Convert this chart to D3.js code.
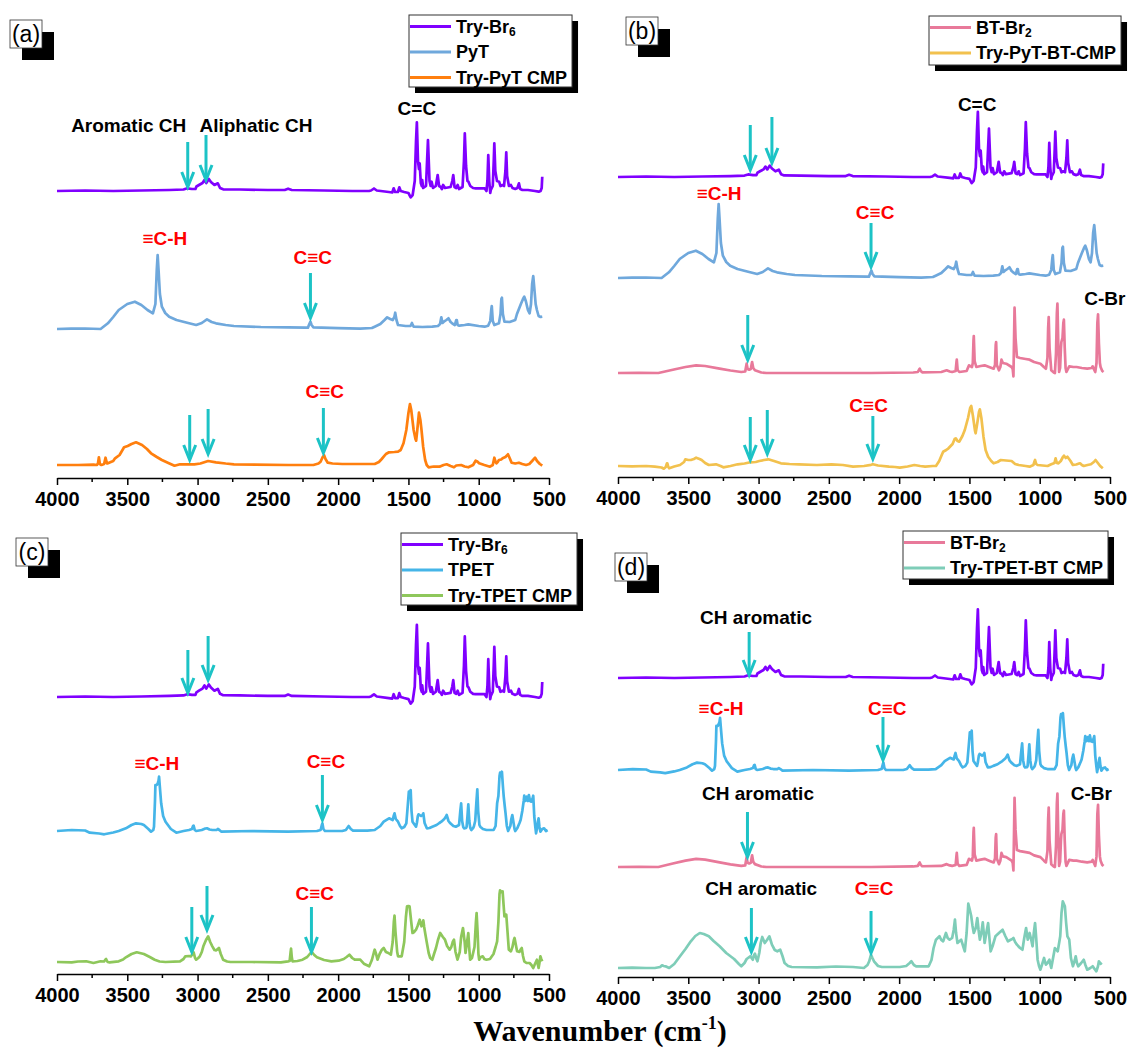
<!DOCTYPE html>
<html><head><meta charset="utf-8">
<script src="https://cdn.jsdelivr.net/npm/d3@7"></script>
<style>body{margin:0;background:#fff}svg{display:block}</style>
</head><body>
<svg id="chart" width="1130" height="1048"></svg>
<script>
// ---------- data: [wavenumber (cm-1), relative intensity] ----------
const tryBr6 = [[4000,0],[3800,0.5],[3600,0],[3400,0.5],[3200,1],[3100,1.5],[3074,2.7],[3040,2],[3015,2],[3008,4.5],[2990,6],[2965,8],[2951,11],[2938,8],[2920,12],[2905,9],[2880,6],[2856,7.7],[2840,3],[2818,1.7],[2700,1.5],[2500,1],[2380,1],[2356,2.3],[2330,1],[2100,0.5],[1900,0],[1780,0],[1766,0.5],[1745,2.5],[1725,0.5],[1640,-1],[1615,-1.5],[1605,2.7],[1595,-1],[1575,-1],[1565,3.7],[1555,0],[1530,-1],[1500,-2],[1484,-6.3],[1470,-4],[1455,10],[1446,50],[1440,68.7],[1432,30],[1425,22],[1420,27.7],[1412,8],[1405,5],[1402,11],[1395,3],[1375,5],[1361,51],[1350,10],[1342,5],[1335,9.3],[1325,3],[1305,5],[1292,16],[1282,5],[1270,4],[1262,2],[1253,6],[1240,3],[1200,4],[1188,10],[1181,16],[1172,4],[1160,3],[1150,6],[1140,2],[1115,4],[1105,30],[1099,57.7],[1090,25],[1080,10],[1073,9.3],[1060,5],[1040,3],[1022,2.7],[958,2.7],[945,0],[938,10],[932,36],[925,10],[918,-2],[914,1],[900,5],[893,30],[889,47.7],[882,20],[870,10],[855,9.3],[845,5],[830,6],[820,5],[810,20],[804,38.7],[798,15],[785,5],[771,6],[760,3],[740,2],[725,3],[714,7.7],[705,2],[689,1],[650,1],[600,0],[573,-0.7],[560,0],[552,3],[548,14.3]];

const pyT = [[4000,0],[3900,0.3],[3800,0.5],[3690,0],[3638,5.7],[3600,12],[3561,19],[3500,25],[3446,27.3],[3400,24],[3356,19],[3318,15.7],[3300,25],[3290,60],[3284,74],[3278,60],[3268,35],[3254,22.3],[3230,16],[3202,12.3],[3150,9],[3074,6.3],[3010,4],[2970,6],[2950,8],[2933,9.7],[2900,7],[2869,5.7],[2800,4],[2741,3],[2550,2],[2356,1.7],[2230,1.3],[2215,1.3],[2205,5],[2197,7.3],[2189,4],[2176,1.7],[2000,0.8],[1843,0.3],[1760,1],[1740,2.3],[1700,5],[1670,9],[1651,11.7],[1630,10],[1612,9],[1600,12],[1594,16.3],[1585,9],[1574,4],[1520,3],[1485,3],[1475,6],[1471,4.7],[1463,2.3],[1400,2],[1330,2.3],[1290,3],[1275,5],[1266,11.7],[1258,6],[1248,7.3],[1230,9],[1215,10.7],[1200,7],[1189,5.7],[1170,4],[1160,9],[1156,9],[1150,4],[1138,3.3],[1100,4],[1074,4.7],[1000,3],[958,2.3],[933,3.3],[918,8],[910,20],[907,23],[900,8],[889,4],[870,5],[856,5.7],[845,15],[839,30],[835,31.3],[828,15],[817,7.3],[780,7],[760,8],[740,9],[728,15],[714,20],[700,25],[685,30],[676,32.3],[665,28],[650,19],[638,15.7],[628,25],[620,45],[612,53],[604,40],[595,25],[586,19],[574,13],[560,12],[548,12.3]];

const tryPyTCMP = [[4000,0],[3850,0],[3740,0.3],[3715,0],[3708,2],[3702,7.7],[3695,1],[3684,0],[3665,1],[3655,7.3],[3645,1.7],[3638,1.7],[3600,4],[3587,6.7],[3555,10],[3530,16],[3523,17.7],[3497,19],[3470,21],[3438,22.7],[3395,20],[3360,16],[3331,11.7],[3290,8],[3254,5],[3200,1.5],[3164,-0.7],[3125,0.7],[3023,0.7],[2980,1.5],[2925,4],[2869,2.7],[2800,1.5],[2741,0.7],[2356,0],[2176,0],[2140,1.5],[2125,3.3],[2110,8],[2100,9.7],[2090,6],[2074,2.3],[2040,1.5],[1971,1],[1800,1],[1740,1],[1710,3],[1690,6],[1676,8.3],[1660,11],[1638,12.7],[1600,13],[1574,13.3],[1555,15],[1535,21.7],[1515,35],[1500,52],[1489,61],[1480,55],[1463,35],[1450,26],[1445,24.3],[1437,35],[1425,52.3],[1415,45],[1407,35],[1395,18],[1381,5],[1370,0],[1356,-2.3],[1320,-1.5],[1279,-1.7],[1250,0],[1228,0.7],[1200,-1],[1176,-2.3],[1160,-0.5],[1125,0],[1100,-1.5],[1074,-2.3],[1040,0],[1022,4.3],[1010,3.5],[997,1.7],[960,0],[920,-1.7],[900,0],[889,7.3],[880,3],[874,1.7],[865,3],[856,5],[840,5.5],[830,6.7],[810,8],[792,10.7],[780,7],[766,2.3],[740,1.5],[714,2.3],[690,1],[663,0],[640,1],[620,4],[599,7.3],[585,4],[565,1],[548,-0.7]];

const btBr2 = [[4000,0],[3850,0.2],[3713,0],[3610,3.3],[3520,6],[3444,7.7],[3380,7],[3277,4.3],[3200,2.5],[3123,1],[3095,1.5],[3088,7],[3085,9.3],[3078,4],[3067,3.3],[3055,4],[3049,9],[3046,11],[3038,5],[3026,2.7],[2980,0.5],[2944,0],[2500,0],[2200,0],[1900,0.5],[1867,1],[1858,3.5],[1854,4.3],[1846,2],[1836,0.7],[1700,1],[1662,2.7],[1640,1.5],[1623,1],[1598,2],[1592,11],[1590,13.3],[1584,3],[1572,1],[1520,2],[1503,7.7],[1482,6],[1476,10],[1471,33],[1469,37],[1463,12],[1451,6],[1420,7],[1392,7.7],[1360,6],[1328,4.3],[1318,8],[1313,28],[1310,31],[1305,8],[1290,2.7],[1280,6],[1272,13.3],[1262,10],[1238,9.3],[1200,6],[1192,4],[1187,-3.3],[1183,30],[1179,65.3],[1172,35],[1162,16],[1140,15],[1100,14],[1072,13.3],[1040,11],[995,9.3],[970,6],[956,4.3],[945,15],[940,45],[936,56],[930,25],[918,2.7],[900,0.5],[892,0],[884,20],[878,60],[874,69.3],[868,30],[862,1],[855,5],[849,25],[846,31],[838,35],[832,50],[828,53.3],[822,25],[816,5],[810,1],[790,6.7],[760,6],[738,6],[700,5],[662,4.3],[630,5],[623,6.7],[615,4],[605,1],[596,10],[590,50],[585,58.7],[579,30],[572,10],[567,6],[555,2],[546,1]];

const tryPyTBTCMP = [[4000,0],[3900,-0.3],[3800,0],[3738,-0.7],[3690,-1.5],[3674,-2.7],[3660,-1],[3652,2.7],[3649,2.7],[3642,-1],[3636,-2.3],[3600,-0.5],[3559,1],[3530,4],[3521,6.7],[3500,6],[3482,6],[3460,7],[3444,8.3],[3420,7],[3405,6],[3380,3],[3354,1],[3303,1.7],[3270,0],[3251,-1.3],[3200,0],[3149,1.7],[3100,2.5],[3059,3.7],[3020,4],[2995,5],[2960,6],[2931,6.7],[2890,5],[2841,2.7],[2780,2],[2713,1.7],[2585,1],[2482,1.7],[2400,1],[2328,-0.7],[2250,0],[2200,1.2],[2187,1.7],[2150,0.5],[2072,-0.7],[2030,-1],[1995,-1.7],[1940,-0.5],[1892,1],[1850,0],[1815,-0.7],[1760,0],[1738,0],[1715,5],[1700,10],[1687,14.3],[1665,16],[1649,17.7],[1620,22],[1605,27],[1597,27.7],[1585,25],[1572,24.3],[1550,30],[1533,36],[1510,48],[1495,58],[1487,60],[1475,50],[1460,35],[1456,32.7],[1445,42],[1432,54],[1426,56.7],[1415,48],[1400,29.3],[1385,16],[1367,9.3],[1345,5],[1328,2.7],[1300,4],[1277,6],[1240,5.5],[1200,5],[1175,2],[1149,1],[1100,0],[1072,-0.7],[1045,1],[1036,5],[1033,6],[1025,2],[1015,1],[980,0.5],[944,0],[918,1.7],[895,3],[887,7.7],[878,3],[867,2.7],[850,5],[835,9],[828,10.3],[815,8],[803,9.3],[782,5.3],[764,1],[740,1.5],[720,2.5],[713,2.7],[700,1],[687,0],[660,1],[636,1.7],[615,4],[603,6],[585,2.7],[570,0],[551,-2.3]];

const tpet = [[4000,0],[3895,1],[3800,0.5],[3767,-1.7],[3700,-2.5],[3664,-3.3],[3600,-1.5],[3561,0],[3510,2.7],[3470,6],[3438,7.7],[3400,7],[3382,6],[3350,2],[3331,-0.7],[3315,1],[3310,4.3],[3303,30],[3300,46],[3290,46],[3284,47.7],[3278,50],[3274,54.3],[3266,40],[3259,27.7],[3245,15],[3228,9.3],[3190,2],[3151,-1.7],[3100,0],[3061,1],[3040,2],[3032,5],[3028,5.3],[3020,1],[3010,0],[2970,1],[2945,2.5],[2933,2.7],[2915,1.5],[2895,1],[2865,1],[2856,2],[2845,1],[2830,-0.7],[2612,0],[2356,-0.7],[2151,0],[2125,1],[2116,6],[2112,7.7],[2105,2],[2094,0],[1971,0],[1945,1],[1925,5],[1910,2],[1894,0.3],[1792,0.3],[1740,1],[1700,5],[1676,9.3],[1638,12.7],[1612,11],[1605,15],[1599,17.7],[1590,12],[1574,9.3],[1560,5],[1548,2.7],[1530,4],[1515,7.7],[1505,25],[1497,39.3],[1490,35],[1484,41],[1478,20],[1471,9.3],[1446,4.3],[1440,8],[1433,15],[1428,16.7],[1410,15],[1400,16],[1394,17.7],[1385,8],[1369,2.7],[1350,3],[1330,4.3],[1300,6],[1280,8],[1266,9.3],[1245,12],[1235,14],[1228,16],[1215,10],[1202,7.7],[1180,5],[1163,4.3],[1140,6],[1131,20],[1125,27.7],[1118,10],[1110,4],[1104,2.7],[1090,3],[1086,4.3],[1080,15],[1074,26.7],[1067,10],[1060,3],[1053,1],[1040,3],[1035,4.3],[1025,10],[1016,30],[1010,41.7],[1004,20],[995,6],[989,4.3],[970,2],[945,1],[894,1],[880,5],[875,15],[869,27.7],[860,35],[852,55],[848,58.3],[841,55],[835,59.3],[828,45],[822,34.3],[815,25],[809,17.7],[800,5],[791,0],[775,5],[768,12],[761,16],[752,8],[745,2],[740,0],[725,3],[710,8],[702,11],[690,20],[680,30],[676,35.3],[668,30],[658,34.3],[650,30],[643,36],[635,30],[625,29.3],[618,32],[612,35.3],[605,15],[598,5],[592,-2.3],[585,3],[578,10],[574,12.7],[568,4],[561,-0.7],[548,2],[535,2.7],[522,0],[510,1]];

const tryTPETCMP = [[4000,0],[3895,-0.3],[3850,0.5],[3792,0.7],[3741,-1],[3690,0.7],[3665,0.5],[3655,2.5],[3651,3],[3640,0],[3626,-0.3],[3561,0.7],[3530,2.5],[3510,4.7],[3470,8],[3433,9.7],[3382,8],[3340,5],[3305,2.3],[3270,0.5],[3228,0],[3125,0.7],[3100,3],[3087,5.7],[3060,6],[3048,5.7],[3035,8],[3028,9.7],[3018,4],[3010,2.3],[2995,4],[2984,5.7],[2970,10],[2959,15.7],[2940,22],[2925,25.7],[2910,20],[2895,15.7],[2880,12],[2869,11.7],[2855,13],[2848,14],[2835,8],[2818,2.3],[2790,0.5],[2766,0],[2612,0],[2407,-0.3],[2356,0.7],[2345,1],[2338,10],[2335,13.3],[2330,5],[2325,0.7],[2290,1],[2253,2.3],[2220,5],[2202,8],[2187,10],[2170,7],[2151,4.7],[2100,2],[2048,0.7],[1997,1.3],[1960,3],[1940,5],[1920,7.3],[1900,4],[1882,2.3],[1860,2.5],[1843,2.3],[1817,-1.7],[1779,-4.3],[1760,2],[1745,10],[1740,12.3],[1730,8],[1720,2.3],[1705,8],[1689,12.3],[1676,14],[1660,10],[1643,9],[1625,7.3],[1612,20],[1604,40],[1599,46.3],[1592,30],[1580,10],[1574,5.7],[1548,5.7],[1530,20],[1518,45],[1510,55.7],[1500,56],[1492,55.7],[1480,40],[1471,29],[1460,30],[1446,32.3],[1435,36],[1420,42.3],[1407,35.7],[1400,38],[1394,41.7],[1388,35],[1381,29],[1370,20],[1356,9],[1345,4],[1330,2.3],[1318,8],[1304,14],[1290,22],[1274,29],[1255,25],[1240,22.3],[1225,16],[1207,12.3],[1195,15],[1185,20],[1176,22.3],[1165,10],[1151,2.3],[1135,10],[1125,25],[1112,34],[1100,20],[1094,9],[1085,18],[1074,29],[1068,15],[1061,2.3],[1048,4],[1030,15],[1020,40],[1015,49],[1008,30],[1002,8],[997,2.3],[985,5],[971,5.7],[960,3],[945,2.3],[920,3],[895,8],[880,15],[869,20.7],[860,40],[852,68],[848,71.7],[838,70],[830,70.7],[822,55],[817,45.7],[810,46],[804,47.3],[795,30],[786,12.3],[771,10.7],[760,15],[750,22],[745,24],[737,18],[727,10.7],[710,10],[700,13],[694,14],[685,6],[676,0.7],[660,-1],[638,-1],[625,-3],[612,-6],[600,-2],[586,2.3],[580,-2],[574,-6],[568,-1],[561,5.7],[555,3],[548,0.7]];

const tryTPETBTCMP = [[4000,0],[3900,0.3],[3800,0],[3738,0],[3700,1],[3687,2.7],[3675,2],[3662,1.7],[3636,0],[3600,4],[3559,11.7],[3520,19],[3482,26.7],[3450,32],[3418,35],[3390,34],[3354,31.7],[3320,27],[3277,21.7],[3230,15],[3174,9],[3140,4],[3123,1.7],[3100,5],[3085,9],[3059,11.7],[3041,8.3],[3035,12],[3026,14.3],[3015,9],[3008,6.7],[2995,15],[2985,25],[2974,31],[2965,28],[2956,25],[2940,28],[2923,31.7],[2915,28],[2905,23.3],[2885,18],[2867,16.7],[2846,18.3],[2830,12],[2815,5],[2790,2],[2764,1],[2585,0.7],[2450,1.5],[2328,1],[2251,0],[2225,3],[2213,6.7],[2200,13.3],[2190,10],[2179,6.7],[2150,2],[2123,1],[1995,1],[1950,2],[1925,5],[1913,6.7],[1895,3],[1879,1.7],[1790,1.7],[1770,8],[1755,20],[1738,28.3],[1713,31.7],[1700,28],[1687,26.7],[1667,35],[1655,30],[1641,28.3],[1623,30],[1612,38],[1603,48.3],[1595,35],[1585,25],[1570,27],[1559,28.3],[1545,22],[1533,16.7],[1520,35],[1508,64.3],[1497,58],[1487,51.7],[1478,42],[1469,35],[1455,40],[1444,50],[1435,38],[1426,28.3],[1415,35],[1405,45.7],[1398,35],[1392,25],[1380,35],[1367,45],[1358,30],[1349,16.7],[1335,22],[1315,31.7],[1290,35],[1264,38.3],[1245,32],[1226,26.7],[1210,28],[1195,29],[1187,30],[1175,26],[1162,23.3],[1140,20],[1123,18.3],[1110,30],[1097,40],[1090,33],[1085,28.3],[1078,32],[1072,35],[1060,28],[1051,21.7],[1042,35],[1033,45],[1025,30],[1015,8.3],[1005,2],[995,-1.7],[980,5],[969,10],[962,6],[956,3.3],[945,5],[931,8.3],[925,4],[918,0],[905,10],[892,20],[880,18],[872,16.7],[862,25],[854,31.7],[845,55],[836,66.7],[828,64],[821,61.7],[812,45],[803,31.7],[790,28.3],[778,10],[764,1.7],[750,8],[744,11.7],[735,5],[726,1.7],[705,5],[687,8.3],[675,3],[662,-1.7],[640,0],[623,1.7],[610,-1],[597,-3.3],[585,2],[579,6.7],[570,5],[559,3.3]];

const xTicks = [4000, 3500, 3000, 2500, 2000, 1500, 1000, 500];
const xMinorTicks = [3750, 3250, 2750, 2250, 1750, 1250, 750];
const xTitle = "Wavenumber (cm";

// ---------- styles ----------
const COL = {
  tryBr6: "#8000FF", pyT: "#6FA8DC", tryPyT: "#FF7F0E", btBr2: "#E8799A",
  tryPyTBT: "#F2C14E", tpet: "#45B5E8", tryTPET: "#8EC75B", tryTPETBT: "#7ECDB8",
  arrow: "#1CC3C6", red: "#FF0000"
};
const SANS = "'Liberation Sans', Arial, sans-serif";

// ---------- panel layout ----------
const panels = [
  { tag: "(a)", left: 57, right: 549, axisY: 478, tagPos: [10, 20],
    legend: { x: 409, y: 15, h: 72, items: [["Try-Br", "6", COL.tryBr6], ["PyT", "", COL.pyT], ["Try-PyT CMP", "", COL.tryPyT]] },
    traces: [{ d: tryBr6, c: COL.tryBr6, off: 287, k: 1 }, { d: pyT, c: COL.pyT, off: 149, k: 1 }, { d: tryPyTCMP, c: COL.tryPyT, off: 13, k: 1 }],
    notes: [["Aromatic CH", 3490, 353, "#000", "middle"], ["Aliphatic CH", 2585, 353, "#000", "middle"], ["C=C", 1440, 370, "#000", "middle"],
            ["≡C-H", 3233, 240, COL.red, "middle"], ["C≡C", 2180, 221, COL.red, "middle"], ["C≡C", 2095, 87, COL.red, "middle"]],
    arrows: [[3070, 336, 291], [2940, 343, 298], [2197, 205, 160], [3056, 63, 18], [2925, 69, 24], [2105, 70, 25]] },
  { tag: "(b)", left: 618, right: 1110, axisY: 477, tagPos: [626, 17],
    legend: { x: 929, y: 16, h: 49, items: [["BT-Br", "2", COL.btBr2], ["Try-PyT-BT-CMP", "", COL.tryPyTBT]] },
    traces: [{ d: tryBr6, c: COL.tryBr6, off: 300, k: 0.95 }, { d: pyT, c: COL.pyT, off: 199, k: 1 }, { d: btBr2, c: COL.btBr2, off: 104, k: 1 }, { d: tryPyTBTCMP, c: COL.tryPyTBT, off: 11, k: 1 }],
    notes: [["C=C", 1445, 373, "#000", "middle"], ["≡C-H", 3281, 284, COL.red, "middle"], ["C≡C", 2171, 265, COL.red, "middle"],
            ["C-Br", 683, 179, "#000", "start"], ["C≡C", 2217, 72, COL.red, "middle"]],
    arrows: [[3059, 352, 307], [2905, 360, 314], [2200, 254, 210], [3077, 162, 117], [3059, 60, 17], [2938, 67, 23], [2187, 61, 18]] },
  { tag: "(c)", left: 57, right: 549, axisY: 974, tagPos: [16, 538],
    legend: { x: 401, y: 533, h: 72, items: [["Try-Br", "6", COL.tryBr6], ["TPET", "", COL.tpet], ["Try-TPET CMP", "", COL.tryTPET]] },
    traces: [{ d: tryBr6, c: COL.tryBr6, off: 277, k: 1.05 }, { d: tpet, c: COL.tpet, off: 143, k: 1 }, { d: tryTPETCMP, c: COL.tryTPET, off: 12, k: 1 }],
    notes: [["≡C-H", 3290, 211, COL.red, "middle"], ["C≡C", 2087, 213, COL.red, "middle"], ["C≡C", 2166, 81, COL.red, "middle"]],
    arrows: [[3069, 324, 281], [2925, 338, 294], [2112, 199, 154], [3041, 67, 22], [2933, 88, 44], [2190, 67, 22]] },
  { tag: "(d)", left: 618, right: 1110, axisY: 977, tagPos: [615, 553],
    legend: { x: 903, y: 531, h: 48, items: [["BT-Br", "2", COL.btBr2], ["Try-TPET-BT CMP", "", COL.tryTPETBT]] },
    traces: [{ d: tryBr6, c: COL.tryBr6, off: 299, k: 1 }, { d: tpet, c: COL.tpet, off: 207, k: 0.96 }, { d: btBr2, c: COL.btBr2, off: 110, k: 1.06 }, { d: tryTPETBTCMP, c: COL.tryTPETBT, off: 9, k: 1 }],
    notes: [["CH aromatic", 3018, 360, "#000", "middle"], ["≡C-H", 3267, 269, COL.red, "middle"], ["C≡C", 2085, 269, COL.red, "middle"],
            ["CH aromatic", 3004, 184, "#000", "middle"], ["C-Br", 633, 184, "#000", "middle"],
            ["CH aromatic", 2982, 89, "#000", "middle"], ["C≡C", 2178, 89, COL.red, "middle"]],
    arrows: [[3067, 345, 302], [2115, 260, 217], [3079, 165, 120], [3051, 69, 25], [2200, 66, 24]] }
];

const svg = d3.select("#chart");

panels.forEach(p => {
  const g = svg.append("g");
  const x = d3.scaleLinear().domain([4000, 500]).range([p.left, p.right]);
  const y = d3.scaleLinear().domain([0, 100]).range([p.axisY, p.axisY - 100]);

  // axis
  const ax = g.append("g").attr("transform", `translate(0,${p.axisY})`)
    .call(d3.axisBottom(x).tickValues(xTicks).tickFormat(d3.format("d")).tickSize(7).tickSizeOuter(0).tickPadding(7));
  ax.select(".domain").attr("stroke", "#000").attr("stroke-width", 1.5);
  ax.selectAll(".tick line").attr("stroke", "#000").attr("stroke-width", 1.5);
  ax.selectAll(".tick text").attr("font-family", SANS).attr("font-weight", "bold").attr("font-size", 20).attr("fill", "#000");
  g.append("g").selectAll("line").data(xMinorTicks).join("line")
    .attr("x1", d => x(d)).attr("x2", d => x(d)).attr("y1", p.axisY).attr("y2", p.axisY + 4)
    .attr("stroke", "#000").attr("stroke-width", 1.5);

  // spectra
  p.traces.forEach(t => {
    const line = d3.line().x(d => x(d[0])).y(d => y(t.off + d[1] * t.k));
    g.append("path").datum(t.d).attr("d", line).attr("fill", "none")
      .attr("stroke", t.c).attr("stroke-width", 2.7).attr("stroke-linejoin", "round");
  });

  // arrows
  p.arrows.forEach(a => {
    const ax0 = x(a[0]), y1 = y(a[1]), y2 = y(a[2]);
    g.append("line").attr("x1", ax0).attr("x2", ax0).attr("y1", y1).attr("y2", y2 - 1)
      .attr("stroke", COL.arrow).attr("stroke-width", 3);
    g.append("path").attr("d", `M${ax0 - 6},${y2 - 15}L${ax0},${y2}L${ax0 + 6},${y2 - 15}`)
      .attr("fill", "none").attr("stroke", COL.arrow).attr("stroke-width", 3).attr("stroke-linejoin", "miter");
  });

  // annotation texts
  p.notes.forEach(n => {
    g.append("text").attr("x", x(n[1])).attr("y", y(n[2])).attr("text-anchor", n[4])
      .attr("dominant-baseline", "central").attr("font-family", SANS).attr("font-weight", "bold")
      .attr("font-size", 19).attr("fill", n[3]).text(n[0]);
  });

  // panel tag with shadow
  const [tx, ty] = p.tagPos;
  g.append("rect").attr("x", tx + 12).attr("y", ty + 12).attr("width", 32).attr("height", 28).attr("fill", "#000");
  g.append("rect").attr("x", tx).attr("y", ty).attr("width", 32).attr("height", 28).attr("fill", "#fff").attr("stroke", "#333").attr("stroke-width", 0.8);
  g.append("text").attr("x", tx + 16).attr("y", ty + 14).attr("text-anchor", "middle").attr("dominant-baseline", "central")
    .attr("font-family", SANS).attr("font-size", 23).attr("fill", "#000").text(p.tag);

  // legend
  const L = p.legend;
  const lg = g.append("g");
  const shadow = lg.append("rect").attr("fill", "#000");
  const box = lg.append("rect").attr("fill", "#fff").attr("stroke", "#333").attr("stroke-width", 1);
  let maxW = 0;
  L.items.forEach((it, i) => {
    const ry = L.y + 11.5 + i * 25.5;
    lg.append("line").attr("x1", L.x + 1).attr("x2", L.x + 42).attr("y1", ry).attr("y2", ry)
      .attr("stroke", it[2]).attr("stroke-width", 3);
    const t = lg.append("text").attr("x", L.x + 47).attr("y", ry).attr("dominant-baseline", "central")
      .attr("font-family", SANS).attr("font-weight", "bold").attr("font-size", 18).attr("fill", "#000");
    t.append("tspan").text(it[0]);
    if (it[1]) t.append("tspan").attr("font-size", 12).attr("dy", 5).text(it[1]);
    maxW = Math.max(maxW, t.node().getComputedTextLength());
  });
  const w = 47 + maxW + 5;
  box.attr("x", L.x).attr("y", L.y).attr("width", w).attr("height", L.h);
  shadow.attr("x", L.x + 6).attr("y", L.y + 6).attr("width", w).attr("height", L.h);
});

// x axis title
const tt = svg.append("text").attr("x", 600).attr("y", 1041).attr("text-anchor", "middle")
  .attr("font-family", "'Liberation Serif', 'Times New Roman', serif").attr("font-weight", "bold").attr("font-size", 30).attr("fill", "#000");
tt.append("tspan").text(xTitle);
tt.append("tspan").attr("font-size", 18).attr("dy", -12).text("-1");
tt.append("tspan").attr("dy", 12).text(")");
</script>
</body></html>
